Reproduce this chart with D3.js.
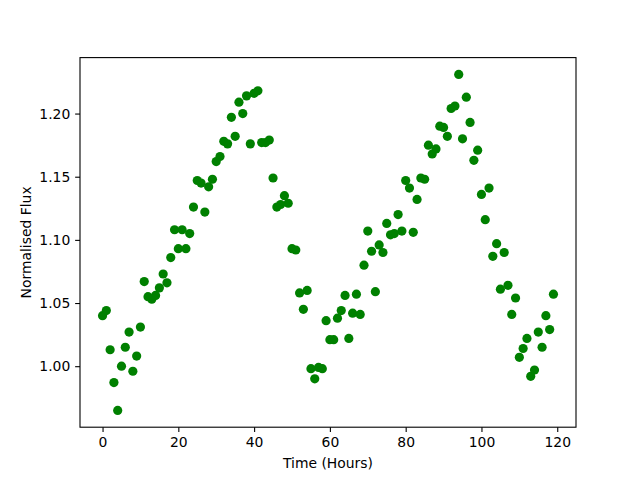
<!DOCTYPE html>
<html><head><meta charset="utf-8">
<script src="https://cdn.jsdelivr.net/npm/d3@7"></script>
<style>body{margin:0;background:#fff}svg{display:block}text{font-family:"DejaVu Sans",sans-serif}</style>
</head><body>
<svg id="c" width="640" height="480"></svg>
<script>
const hours = d3.range(0, 120);
const flux = [
1.040,1.044,1.013,0.987,0.965,1.000,1.015,1.027,0.996,1.008,
1.031,1.067,1.055,1.053,1.056,1.062,1.073,1.066,1.086,1.108,
1.093,1.108,1.093,1.105,1.126,1.147,1.145,1.122,1.142,1.148,
1.162,1.166,1.178,1.176,1.197,1.182,1.209,1.200,1.214,1.176,
1.216,1.218,1.177,1.177,1.179,1.149,1.126,1.128,1.135,1.129,
1.093,1.092,1.058,1.045,1.060,0.998,0.990,0.999,0.998,1.036,
1.021,1.021,1.038,1.044,1.056,1.022,1.042,1.057,1.041,1.080,
1.107,1.091,1.059,1.096,1.090,1.113,1.104,1.105,1.120,1.107,
1.147,1.141,1.106,1.132,1.149,1.148,1.175,1.168,1.172,1.190,
1.189,1.182,1.204,1.206,1.231,1.180,1.213,1.193,1.163,1.171,
1.136,1.116,1.141,1.087,1.097,1.061,1.090,1.064,1.041,1.054,
1.007,1.014,1.022,0.992,0.997,1.027,1.015,1.040,1.029,1.057];
const xTicks = [0,20,40,60,80,100,120];
const yTicks = [1.00,1.05,1.10,1.15,1.20];
const xLabel = "Time (Hours)";
const yLabel = "Normalised Flux";

const svg = d3.select("#c");
const L=80,R=576,T=57.6,B=427.2;
const xmin=d3.min(hours), xmax=d3.max(hours), xm=(xmax-xmin)*0.05;
const ymin=d3.min(flux), ymax=d3.max(flux), ym=(ymax-ymin)*0.05;
const x=d3.scaleLinear().domain([xmin-xm,xmax+xm]).range([L,R]);
const y=d3.scaleLinear().domain([ymin-ym,ymax+ym]).range([B,T]);

svg.append("g").selectAll("circle").data(hours).join("circle")
  .attr("cx",(d)=>x(d)).attr("cy",(d,i)=>y(flux[i])).attr("r",4.6)
  .attr("fill","#008000");

const xa=svg.append("g").attr("transform",`translate(0,${B})`)
  .call(d3.axisBottom(x).tickValues(xTicks).tickFormat(d3.format("d")).tickSize(4.86).tickPadding(4.86));
const ya=svg.append("g").attr("transform",`translate(${L},0)`)
  .call(d3.axisLeft(y).tickValues(yTicks).tickFormat(d3.format(".2f")).tickSize(4.86).tickPadding(4.86));
[xa,ya].forEach(a=>{a.select(".domain").remove();
  a.selectAll("line").attr("stroke","#000").attr("stroke-width",1.1);
  a.selectAll("text").attr("font-size","13.9px").attr("fill","#000").attr("font-family","DejaVu Sans");});
xa.selectAll("text").attr("dy","0.71em");
ya.selectAll("text").attr("dy","0.32em");

svg.append("rect").attr("x",L).attr("y",T).attr("width",R-L).attr("height",B-T)
  .attr("fill","none").attr("stroke","#000").attr("stroke-width",1.1);

svg.append("text").attr("x",(L+R)/2).attr("y",468).attr("text-anchor","middle")
  .attr("font-size","13.9px").text(xLabel);
svg.append("text").attr("transform",`translate(31,${(T+B)/2}) rotate(-90)`).attr("text-anchor","middle")
  .attr("font-size","13.9px").text(yLabel);
</script>
</body></html>
